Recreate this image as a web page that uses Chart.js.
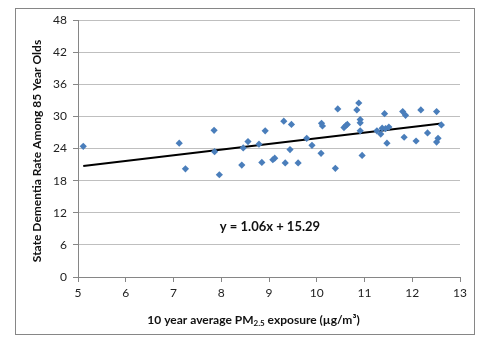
<!DOCTYPE html>
<html>
<head>
<meta charset="utf-8">
<script src="https://cdn.jsdelivr.net/npm/chart.js@4/dist/chart.umd.min.js"></script>
<style>
  html, body { margin: 0; padding: 0; background: #fff; }
  canvas { display: block; }
</style>
</head>
<body>
<canvas id="chartCanvas" width="482" height="347"></canvas>
<script>
// PM2.5 exposure (x) vs dementia rate (y)
const pmExposure = [5.11, 7.12, 7.25, 7.85, 7.86, 7.96, 8.43, 8.46, 8.56, 8.79, 8.85, 8.92,
    9.08, 9.12, 9.31, 9.34, 9.44, 9.47, 9.61, 9.79, 9.90, 10.09, 10.10, 10.12,
    10.39, 10.44, 10.57, 10.61, 10.64, 10.84, 10.88, 10.91, 10.91, 10.91, 10.95,
    11.26, 11.34, 11.37, 11.42, 11.44, 11.47, 11.51, 11.80, 11.86, 11.83,
    12.08, 12.18, 12.32, 12.51, 12.54, 12.51, 12.61];
const dementiaRate = [24.4, 25.0, 20.2, 27.4, 23.4, 19.1, 20.9, 24.1, 25.3, 24.8, 21.4, 27.3,
    21.9, 22.2, 29.1, 21.3, 23.8, 28.5, 21.3, 25.9, 24.6, 23.1, 28.7, 28.2,
    20.3, 31.4, 27.9, 28.3, 28.5, 31.2, 32.5, 29.4, 28.8, 27.3, 22.7,
    27.3, 26.7, 27.8, 30.5, 27.7, 25.0, 28.0, 30.9, 30.2, 26.1,
    25.4, 31.2, 26.9, 30.9, 25.9, 25.2, 28.4];

// trendline end points
const trendX = [5.11, 12.61];
const trendY = [20.71, 28.66];
const trendLabel = 'y = 1.06x + 15.29';

const xTicks = { min: 5, max: 13, step: 1 };
const yTicks = { min: 0, max: 48, step: 6 };

const FONT = 'Lato, "Open Sans", sans-serif';

const frame = {
    id: 'frame',
    beforeDraw(chart) {
        const c = chart.ctx;
        c.save();
        c.fillStyle = '#fff';
        c.fillRect(0, 0, chart.width, chart.height);
        c.strokeStyle = '#868686';
        c.lineWidth = 1;
        c.strokeRect(15.5, 8.5, 459, 326);
        c.restore();
    },
    afterDraw(chart) {
        const c = chart.ctx;
        const xs = chart.scales.x, ys = chart.scales.y;
        c.save();
        c.fillStyle = '#111';

        // equation
        c.font = 'bold 13px ' + FONT;
        c.textAlign = 'center';
        c.textBaseline = 'middle';
        c.fillText(trendLabel, xs.getPixelForValue(9.02), ys.getPixelForValue(9.3));

        // y title
        c.font = 'bold 12px ' + FONT;
        c.save();
        c.translate(37, 151);
        c.rotate(-Math.PI / 2);
        c.fillText('State Dementia Rate Among 85 Year Olds', 0, 0);
        c.restore();

        // x title with subscript
        const parts = [
            ['10 year average PM', 'bold 12px ', 0],
            ['2.5', 'bold 8px ', 3],
            [' exposure (\u00b5g/m\u00b3)', 'bold 12px ', 0]
        ];
        let total = 0;
        parts.forEach(p => { c.font = p[1] + FONT; total += c.measureText(p[0]).width; });
        let x = 253.5 - total / 2;
        c.textAlign = 'left';
        parts.forEach(p => {
            c.font = p[1] + FONT;
            c.fillText(p[0], x, 320 + p[2]);
            x += c.measureText(p[0]).width;
        });
        c.restore();
    }
};

const ctx = document.getElementById('chartCanvas').getContext('2d');
new Chart(ctx, {
    type: 'scatter',
    data: {
        datasets: [{
            label: 'States',
            data: pmExposure.map((v, i) => ({ x: v, y: dementiaRate[i] })),
            pointStyle: 'rectRot',
            pointRadius: 3.6,
            backgroundColor: '#4a7ebb',
            borderColor: '#4a7ebb',
            borderWidth: 0
        }, {
            type: 'line',
            label: 'Trend',
            data: trendX.map((v, i) => ({ x: v, y: trendY[i] })),
            borderColor: '#000',
            borderWidth: 2,
            pointRadius: 0,
            fill: false
        }]
    },
    options: {
        responsive: false,
        animation: false,
        layout: { padding: { top: 20, right: 22, left: 0, bottom: 0 } },
        scales: {
            x: {
                type: 'linear',
                min: xTicks.min,
                max: xTicks.max,
                ticks: {
                    stepSize: xTicks.step,
                    color: '#222',
                    padding: 4,
                    font: { family: FONT, size: 12 }
                },
                grid: { drawOnChartArea: false, tickLength: 5, color: '#868686' },
                border: { color: '#868686' },
                afterFit(scale) { scale.height = 70; }
            },
            y: {
                min: yTicks.min,
                max: yTicks.max,
                ticks: {
                    stepSize: yTicks.step,
                    color: '#222',
                    padding: 6,
                    font: { family: FONT, size: 12 }
                },
                grid: { color: '#bfbfbf', tickColor: '#868686', tickLength: 5 },
                border: { color: '#868686' },
                afterFit(scale) { scale.width = 78; }
            }
        },
        plugins: {
            legend: { display: false },
            tooltip: { enabled: false }
        }
    },
    plugins: [frame]
});
</script>
</body>
</html>
